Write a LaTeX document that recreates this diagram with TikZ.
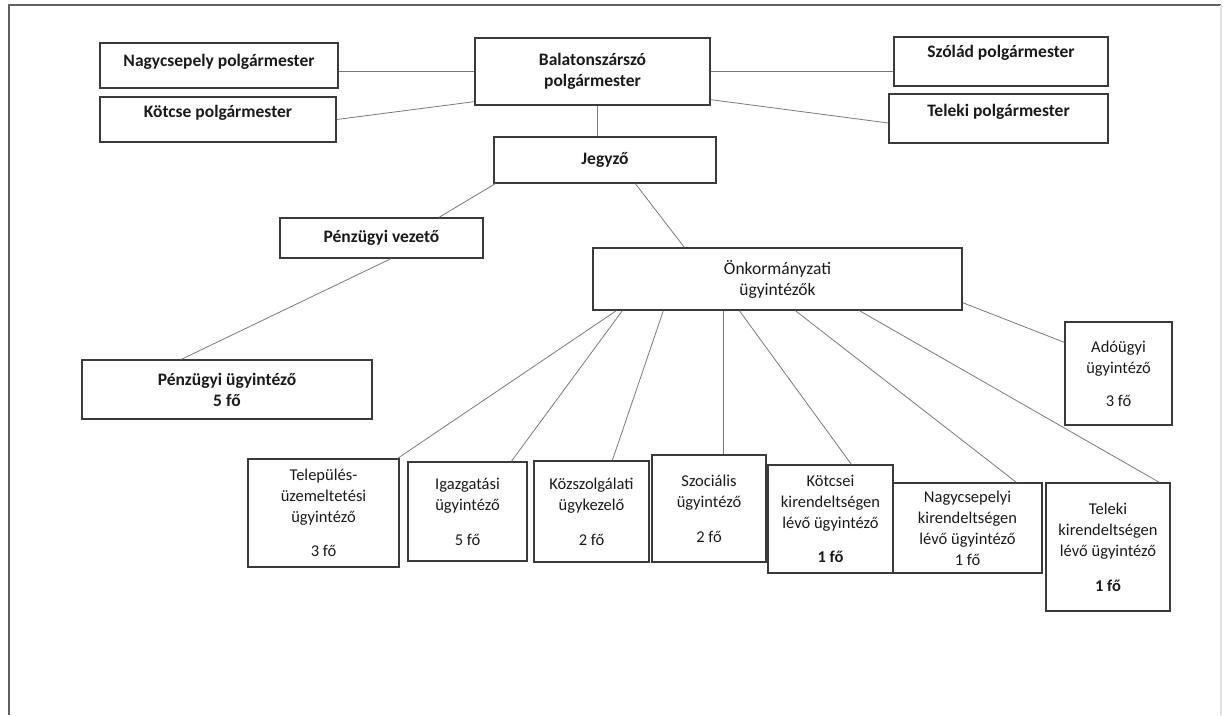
\documentclass[tikz,border=0pt]{standalone}
\usepackage{fontspec}
\setmainfont{Carlito}
\usetikzlibrary{calc}
\definecolor{boxline}{HTML}{3A3A3A}
\definecolor{conline}{HTML}{7A7A7A}
\definecolor{txt}{HTML}{1A1A1A}
\tikzset{
  orgbox/.style={draw=boxline, line width=1.3pt, inner sep=0pt, align=center,
    text=txt, font=\fontsize{16.5}{21}\selectfont},
  bigbox/.style={orgbox, font=\fontsize{17.5}{21}\selectfont},
  boldbox/.style={orgbox, font=\fontsize{17.5}{21}\selectfont\bfseries},
  conn/.style={draw=conline, line width=0.8pt},
  frameline/.style={draw=#1, line width=1.4pt}
}
\newcommand{\bx}[7]{% style, name, x1, x2, y1, y2, text
  \node[#1, minimum width={(#4-#3)*1pt}, minimum height={(#6-#5)*1pt}] (#2) at ({(#3+#4)/2},{(#5+#6)/2}) {#7};}
\begin{document}
\begin{tikzpicture}[x=1pt,y=-1pt]
\useasboundingbox[fill=white] (0,0) rectangle (1223,715);
% frame
\coordinate (ftl) at (9,5);
\coordinate (ftr) at (1221,5);
\coordinate (fbl) at (9,715);
\coordinate (fbr) at (1221,715);
\draw[frameline=boxline!80] (fbl) -- (ftl) -- (ftr);
\draw[frameline=black!12] (ftr) -- (fbr);
% boxes
\bx{boldbox,text depth=11pt}{nagy}{100}{338}{43}{88}{Nagycsepely polgármester}
\bx{boldbox,text depth=17pt}{kotcse}{100}{336}{97}{142}{Kötcse polgármester}
\bx{boldbox}{bal}{475}{710}{38}{105}{Balatonszárszó\\polgármester}
\bx{boldbox,text depth=20pt}{szolad}{894}{1108}{37}{86}{Szólád polgármester}
\bx{boldbox,text depth=17pt}{telekip}{889}{1108}{94}{143}{Teleki polgármester}
\bx{boldbox}{jegyzo}{494}{716}{137}{183}{Jegyző}
\bx{boldbox}{penzv}{280}{483}{218}{258}{Pénzügyi vezető}
\bx{boldbox}{penzu}{82}{372}{360}{419}{Pénzügyi ügyintéző\\5 fő}
\bx{bigbox}{onk}{593}{962}{248}{310}{Önkormányzati\\ügyintézők}
\bx{orgbox}{ado}{1065}{1172}{322}{425}{Adóügyi\\ügyintéző\\[12pt]3 fő}
\bx{orgbox}{telep}{248}{399}{459}{567}{Település-\\üzemeltetési\\ügyintéző\\[13pt]3 fő}
\bx{orgbox}{igaz}{408}{527}{462}{561}{Igazgatási\\ügyintéző\\[14pt]5 fő}
\bx{orgbox}{kozsz}{534}{649}{461}{562}{Közszolgálati\\ügykezelő\\[14pt]2 fő}
\bx{orgbox}{szoc}{652}{766}{455}{562}{Szociális\\ügyintéző\\[14pt]2 fő}
\bx{orgbox}{kotcsei}{768}{893}{465}{573}{Kötcsei\\kirendeltségen\\lévő ügyintéző\\[13pt]\textbf{1 fő}}
\bx{orgbox}{nagyk}{893}{1042}{483}{573}{Nagycsepelyi\\kirendeltségen\\lévő ügyintéző\\1 fő}
\bx{orgbox}{telekik}{1046}{1170}{483}{611}{Teleki\\kirendeltségen\\lévő ügyintéző\\[14pt]\textbf{1 fő}}
% connectors
\draw[conn] (nagy.east |- bal.west) -- (bal.west);
\draw[conn] (bal.east) -- (szolad.west |- bal.east);
\draw[conn] (kotcse.east) -- ($(bal.south west)+(0,-4)$);
\draw[conn] ($(bal.south east)+(0,-6)$) -- ($(telekip.west)+(0,4.5)$);
\coordinate (bj) at ($(bal.south)+(5,0)$);
\draw[conn] (bj) -- (bj |- jegyzo.north);
\draw[conn] ($(jegyzo.south west)+(2,0)$) -- ($(penzv.north)+(57.5,0)$);
\draw[conn] ($(jegyzo.south west)+(142,0)$) -- ($(onk.north west)+(92,0)$);
\draw[conn] ($(penzv.south)+(9.5,0)$) -- ($(penzu.north west)+(100,0)$);
\draw[conn] ($(onk.south east)+(0,-8)$) -- ($(ado.north west)+(0,21)$);
\draw[conn] ($(onk.south west)+(24,0)$) -- ($(telep.north east)+(-2,0)$);
\draw[conn] ($(onk.south west)+(30,0)$) -- ($(igaz.north west)+(104,0)$);
\draw[conn] ($(onk.south west)+(71,0)$) -- ($(kozsz.north west)+(79,0)$);
\coordinate (os) at ($(onk.south west)+(131,0)$);
\draw[conn] (os) -- (os |- szoc.north);
\draw[conn] ($(onk.south west)+(147,0)$) -- ($(kotcsei.north west)+(84,0)$);
\draw[conn] ($(onk.south west)+(203,0)$) -- ($(nagyk.north west)+(124,0)$);
\draw[conn] ($(onk.south west)+(267,0)$) -- ($(telekik.north west)+(114,0)$);
\end{tikzpicture}
\end{document}
